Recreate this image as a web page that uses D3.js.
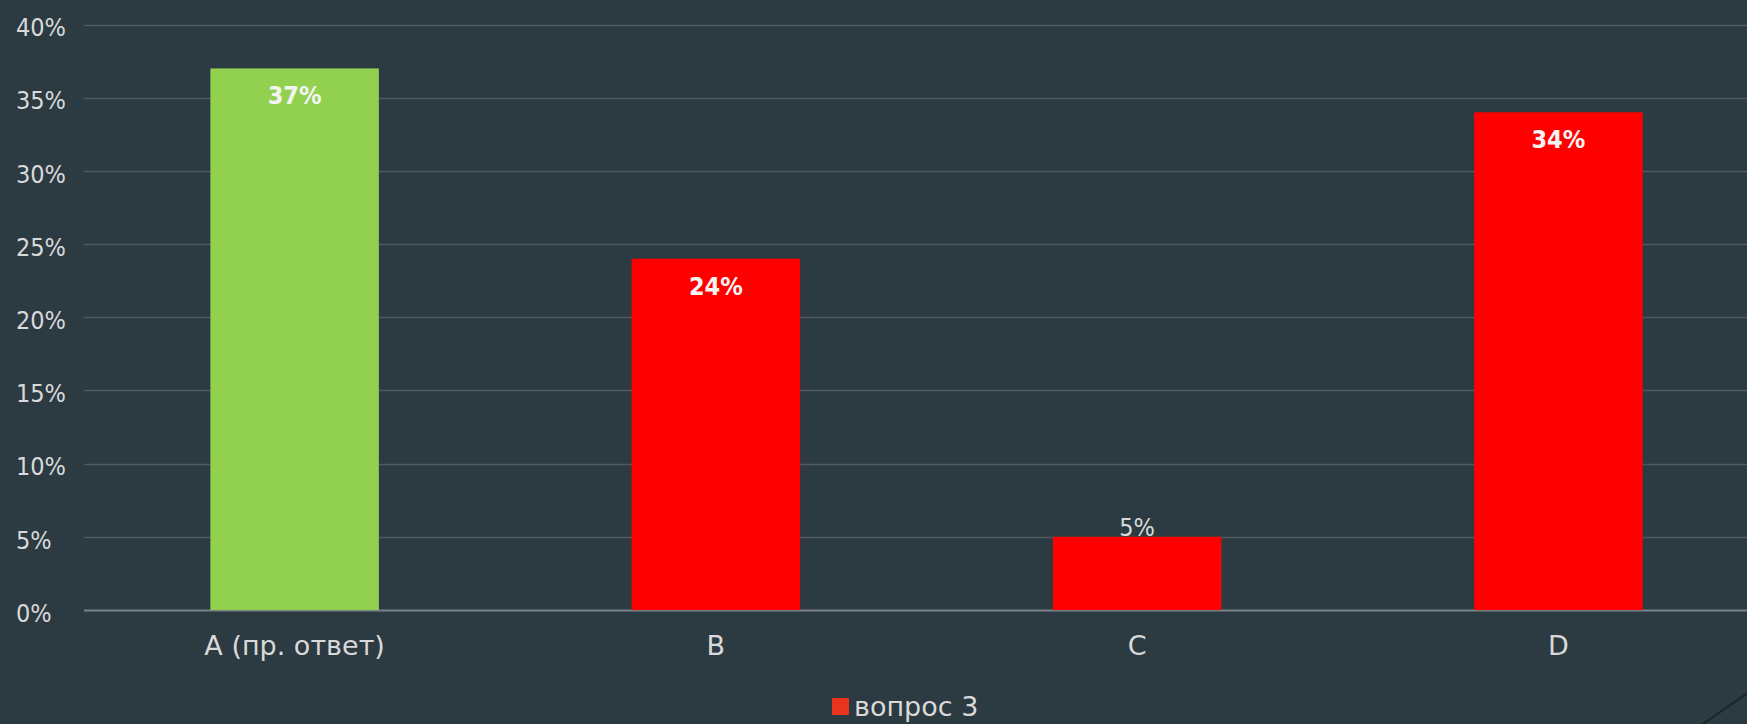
<!DOCTYPE html>
<html>
<head>
<meta charset="utf-8">
<script src="https://cdn.jsdelivr.net/npm/d3@7"></script>
<style>
  html, body { margin: 0; padding: 0; background: #2c3a42; }
  svg { display: block; }
</style>
</head>
<body>
<svg width="1747" height="724"></svg>
<script>
// data
var categories = ["A (пр. ответ)", "B", "C", "D"];
var values = [37, 24, 5, 34];
var barColors = ["#92d050", "#ff0000", "#ff0000", "#ff0000"];
var yTicks = [0, 5, 10, 15, 20, 25, 30, 35, 40];
var seriesName = "вопрос 3";

var svg = d3.select("svg"),
    width = +svg.attr("width"),
    height = +svg.attr("height");

var left = 84, baseY = 610, topY = 24.5;

// x band scale - the plot runs a bit past the right edge of the slide
var x = d3.scaleBand()
    .domain(categories)
    .range([left, 1769])
    .paddingInner(0.6)
    .paddingOuter(0.3);

var y = d3.scaleLinear()
    .domain([0, 40])
    .range([baseY, topY]);

// gridlines
svg.append("g")
    .attr("class", "grid")
  .selectAll("line")
  .data(yTicks)
  .enter().append("line")
    .attr("x1", left)
    .attr("x2", width)
    .attr("y1", function(d) { return Math.round(y(d)) + 0.5; })
    .attr("y2", function(d) { return Math.round(y(d)) + 0.5; })
    .attr("stroke", function(d) { return d === 0 ? "#7a8186" : "#52595d"; })
    .attr("stroke-width", function(d) { return d === 0 ? 2 : 1.5; });

// y tick labels (left aligned like the original)
svg.append("g")
    .attr("class", "y-labels")
  .selectAll("text")
  .data(yTicks)
  .enter().append("text")
    .attr("x", 16)
    .attr("y", function(d) { return y(d) + 3; })
    .attr("dy", "0.35em")
    .attr("fill", "#d9d9d9")
    .attr("font-family", "'DejaVu Sans Condensed', 'DejaVu Sans', sans-serif")
    .attr("font-size", 25)
    .text(function(d) { return d + "%"; });

// bars
svg.append("g")
    .attr("class", "bars")
  .selectAll("rect")
  .data(values)
  .enter().append("rect")
    .attr("x", function(d, i) { return x(categories[i]); })
    .attr("y", function(d) { return y(d); })
    .attr("width", x.bandwidth())
    .attr("height", function(d) { return baseY - y(d); })
    .attr("fill", function(d, i) { return barColors[i]; });

// value labels: inside the top for tall bars, just above for short ones
svg.append("g")
    .attr("class", "values")
  .selectAll("text")
  .data(values)
  .enter().append("text")
    .attr("x", function(d, i) { return x(categories[i]) + x.bandwidth() / 2; })
    .attr("y", function(d) { return d >= 10 ? y(d) + 36 : y(d) - 1; })
    .attr("text-anchor", "middle")
    .attr("fill", function(d) { return d >= 10 ? "#f4f4f4" : "#d9d9d9"; })
    .attr("font-weight", function(d) { return d >= 10 ? "bold" : "normal"; })
    .attr("font-family", "'DejaVu Sans Condensed', 'DejaVu Sans', sans-serif")
    .attr("font-size", 25)
    .text(function(d) { return d + "%"; });

// category labels
svg.append("g")
    .attr("class", "x-labels")
  .selectAll("text")
  .data(categories)
  .enter().append("text")
    .attr("x", function(d) { return x(d) + x.bandwidth() / 2; })
    .attr("y", 655)
    .attr("text-anchor", "middle")
    .attr("fill", "#d9d9d9")
    .attr("font-family", "'DejaVu Sans', sans-serif")
    .attr("font-size", 27)
    .text(function(d) { return d; });

// legend
var legend = svg.append("g")
    .attr("class", "legend")
    .attr("transform", "translate(832,698)");

legend.append("rect")
    .attr("width", 17)
    .attr("height", 17)
    .attr("fill", "#e8341c");

legend.append("text")
    .attr("x", 22)
    .attr("y", 18)
    .attr("fill", "#d9d9d9")
    .attr("font-family", "'DejaVu Sans', sans-serif")
    .attr("font-size", 27)
    .text(seriesName);

// slide decoration in the lower right corner
svg.append("line")
    .attr("x1", 1700).attr("y1", 726)
    .attr("x2", 1749).attr("y2", 692)
    .attr("stroke", "#1c2429")
    .attr("stroke-width", 2);
</script>
</body>
</html>
